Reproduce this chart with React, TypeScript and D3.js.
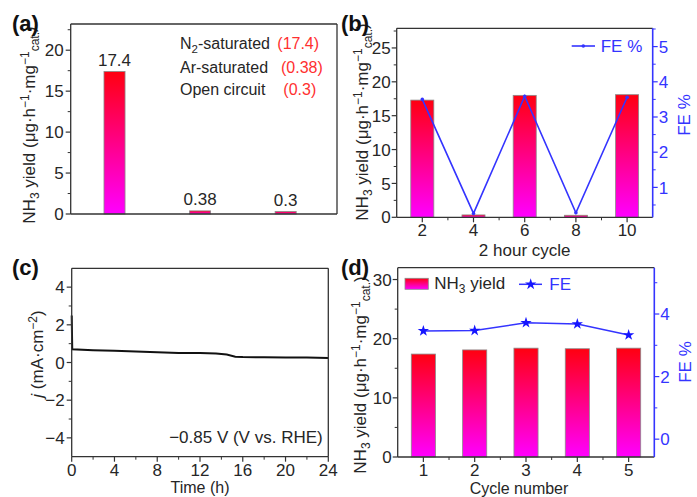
import React from "react";
import * as d3 from "d3";

// ---------- data ----------
const catA = ["N2-saturated", "Ar-saturated", "Open circuit"];
const yieldA = [17.4, 0.38, 0.3];
const labelA = ["17.4", "0.38", "0.3"];

const cycleB = [2, 4, 6, 8, 10];
const yieldB = [17.3, 0.35, 18.0, 0.3, 18.1];
const feB = [3.5, 0.26, 3.59, 0.28, 3.56];

const timeC = [0, 0.05, 2, 4, 6, 8, 10, 12, 13.5, 14.5, 15.3, 16, 18, 20, 22, 24];
const jC = [2.5, 0.7, 0.65, 0.62, 0.58, 0.54, 0.51, 0.5, 0.48, 0.42, 0.31, 0.29, 0.28, 0.27, 0.26, 0.24];

const cycleD = [1, 2, 3, 4, 5];
const yieldD = [17.4, 18.1, 18.4, 18.3, 18.4];
const feD = [3.46, 3.47, 3.72, 3.68, 3.33];

// ticks
const ticksAy = [0, 5, 10, 15, 20];
const minorAy = [2.5, 7.5, 12.5, 17.5, 22.5];
const ticksBy = [0, 5, 10, 15, 20, 25];
const minorBy = [2.5, 7.5, 12.5, 17.5, 22.5, 27.5];
const ticksBr = [1, 2, 3, 4, 5];
const minorBr = [0.5, 1.5, 2.5, 3.5, 4.5, 5.5];
const ticksBx = [2, 4, 6, 8, 10];
const minorBx = [3, 5, 7, 9];
const ticksCx = [0, 4, 8, 12, 16, 20, 24];
const minorCx = [2, 6, 10, 14, 18, 22];
const ticksCy = [-4, -2, 0, 2, 4];
const minorCy = [-3, -1, 1, 3];
const ticksDx = [1, 2, 3, 4, 5];
const minorDx = [1.5, 2.5, 3.5, 4.5];
const ticksDy = [0, 10, 20, 30];
const minorDy = [5, 15, 25];
const ticksDr = [0, 2, 4];
const minorDr = [1, 3, 5];

const FONT = "'Liberation Sans', Arial, Helvetica, sans-serif";
const FS = 17;
const SS = 12;
const TXT = "#262626";
const BLUE = "#3434ff";
const AX = "#333";
const fmt = (v: number) => (v < 0 ? "\u2212" + Math.abs(v) : String(v));

function LeftAxis({ scale, x, majors, minors, color = AX, gap = 7 }: any) {
  return (
    <g>
      {majors.map((t: number) => (
        <g key={"M" + t}>
          <line x1={x} x2={x - 5} y1={scale(t)} y2={scale(t)} stroke={color} strokeWidth={1.2} />
          <text x={x - gap} y={scale(t)} dy="0.36em" textAnchor="end" fontSize={FS} fill={TXT}>
            {fmt(t)}
          </text>
        </g>
      ))}
      {minors.map((t: number) => (
        <line key={"m" + t} x1={x} x2={x - 3} y1={scale(t)} y2={scale(t)} stroke={color} strokeWidth={1} />
      ))}
    </g>
  );
}

function RightAxis({ scale, x, majors, minors, color = BLUE, gap = 6 }: any) {
  return (
    <g>
      {majors.map((t: number) => (
        <g key={"M" + t}>
          <line x1={x} x2={x + 5} y1={scale(t)} y2={scale(t)} stroke={color} strokeWidth={1.2} />
          <text x={x + gap} y={scale(t)} dy="0.36em" textAnchor="start" fontSize={FS} fill={color}>
            {fmt(t)}
          </text>
        </g>
      ))}
      {minors.map((t: number) => (
        <line key={"m" + t} x1={x} x2={x + 3} y1={scale(t)} y2={scale(t)} stroke={color} strokeWidth={1} />
      ))}
    </g>
  );
}

function BottomAxis({ scale, y, majors, minors }: any) {
  return (
    <g>
      {majors.map((t: number) => (
        <g key={"M" + t}>
          <line x1={scale(t)} x2={scale(t)} y1={y} y2={y + 5} stroke={AX} strokeWidth={1.2} />
          <text x={scale(t)} y={y + 19} textAnchor="middle" fontSize={FS} fill={TXT}>
            {fmt(t)}
          </text>
        </g>
      ))}
      {minors.map((t: number) => (
        <line key={"m" + t} x1={scale(t)} x2={scale(t)} y1={y} y2={y + 3} stroke={AX} strokeWidth={1} />
      ))}
    </g>
  );
}

function Frame({ x0, x1, y0, y1, rightColor = AX }: any) {
  return (
    <g fill="none">
      <line x1={x0} x2={x1} y1={y0} y2={y0} stroke={AX} strokeWidth={1.3} />
      <line x1={x0} x2={x1} y1={y1} y2={y1} stroke={AX} strokeWidth={1.3} />
      <line x1={x0} x2={x0} y1={y0} y2={y1} stroke={AX} strokeWidth={1.3} />
      <line x1={x1} x2={x1} y1={y0} y2={y1} stroke={rightColor} strokeWidth={rightColor === AX ? 1.3 : 1.6} />
    </g>
  );
}

function YieldTitle({ x, y }: any) {
  return (
    <text transform={`translate(${x},${y}) rotate(-90)`} textAnchor="middle" fontSize={FS} fill={TXT}>
      NH<tspan dy={4} fontSize={SS}>3</tspan>
      <tspan dy={-4}> yield (μg·h</tspan>
      <tspan dy={-6} fontSize={SS}>−1</tspan>
      <tspan dy={6}>·mg</tspan>
      <tspan dy={-6} fontSize={SS}>−1</tspan>
      <tspan dy={10} fontSize={SS}>cat.</tspan>
      <tspan dy={-4}>)</tspan>
    </text>
  );
}

export default function App() {
  // ---------- panel (a) ----------
  const ax = d3.scaleLinear().domain([0.488, 3.6]).range([70.7, 337]);
  const ay = d3.scaleLinear().domain([0, 23.2]).range([214, 24]);
  const bwA = 0.246;

  // ---------- panel (b) ----------
  const bx = d3.scaleLinear().domain([1, 11]).range([396.7, 652.7]);
  const by = d3.scaleLinear().domain([0, 27.9]).range([217.3, 28.3]);
  const byR = d3.scaleLinear().domain([0.15, 5.52]).range([217.3, 28.3]);
  const bwB = 0.9;
  const lineB = d3
    .line<number>()
    .x((_, i) => bx(cycleB[i]))
    .y((d) => byR(d));

  // ---------- panel (c) ----------
  const cx = d3.scaleLinear().domain([0, 24]).range([71.7, 328.3]);
  const cy = d3.scaleLinear().domain([-5, 5]).range([456.7, 268.3]);
  const lineC = d3
    .line<number>()
    .x((_, i) => cx(timeC[i]))
    .y((d) => cy(d))
    .curve(d3.curveLinear);

  // ---------- panel (d) ----------
  const dx = d3.scaleLinear().domain([0.5, 5.5]).range([397.7, 654.3]);
  const dy = d3.scaleLinear().domain([0, 32]).range([457, 267.7]);
  const dyR = d3.scaleLinear().domain([-0.57, 5.48]).range([457, 267.7]);
  const bwD = 0.47;
  const lineD = d3
    .line<number>()
    .x((_, i) => dx(cycleD[i]))
    .y((d) => dyR(d));
  const star = d3.symbol().type(d3.symbolStar).size(40)() as string;

  const bar = (x: number, w: number, yTop: number, yBot: number, key: string) => (
    <rect
      key={key}
      x={x - w / 2}
      y={Math.min(yTop, yBot)}
      width={w}
      height={Math.abs(yBot - yTop)}
      fill="url(#barGrad)"
      stroke="#8a8a8a"
      strokeWidth={0.8}
    />
  );

  return (
    <svg
      width={697}
      height={497}
      style={{ position: "absolute", left: 0, top: 0, background: "#fff" }}
      fontFamily={FONT}
    >
      <defs>
        <linearGradient id="barGrad" x1="0" y1="0" x2="0" y2="1">
          <stop offset="0" stopColor="#ff0010" />
          <stop offset="1" stopColor="#ff00ff" />
        </linearGradient>
      </defs>
      <rect x={0} y={0} width={697} height={497} fill="#fff" />

      {/* ===== (a) ===== */}
      <g>
        {yieldA.map((v, i) => bar(ax(i + 1), ax(bwA) - ax(0), ay(v), ay(0), "a" + i))}
        {yieldA.map((v, i) => (
          <text key={"la" + i} x={ax(i + 1)} y={ay(v) - 6} textAnchor="middle" fontSize={FS} fill={TXT}>
            {labelA[i]}
          </text>
        ))}
        <Frame x0={70.7} x1={337} y0={24} y1={214} />
        <LeftAxis scale={ay} x={70.7} majors={ticksAy} minors={minorAy} />
        <YieldTitle x={35} y={125} />
        <text x={12} y={31} fontSize={22} fontWeight="bold" fill="#111">(a)</text>
        <g fontSize={16} fill={TXT}>
          <text x={180} y={48.5}>
            N<tspan dy={4} fontSize={11.5}>2</tspan>
            <tspan dy={-4}>-saturated</tspan>
            <tspan x={277.3} fill="#ff3030">({yieldA[0]})</tspan>
          </text>
          <text x={180} y={72.5}>
            {catA[1]} <tspan x={281} fill="#ff3030">({yieldA[1]})</tspan>
          </text>
          <text x={180} y={94.5}>
            {catA[2]} <tspan x={283.3} fill="#ff3030">({yieldA[2]})</tspan>
          </text>
        </g>
      </g>

      {/* ===== (b) ===== */}
      <g>
        {yieldB.map((v, i) => bar(bx(cycleB[i]), bx(bwB) - bx(0), by(v), by(0), "b" + i))}
        <path d={lineB(feB) as string} fill="none" stroke={BLUE} strokeWidth={1.6} />
        {feB.map((v, i) => (
          <circle key={"pb" + i} cx={bx(cycleB[i])} cy={byR(v)} r={1.8} fill={BLUE} />
        ))}
        <Frame x0={396.7} x1={652.7} y0={28.3} y1={217.3} rightColor={BLUE} />
        <LeftAxis scale={by} x={396.7} majors={ticksBy} minors={minorBy} gap={6} />
        <RightAxis scale={byR} x={652.7} majors={ticksBr} minors={minorBr} />
        <BottomAxis scale={bx} y={217.3} majors={ticksBx} minors={minorBx} />
        <YieldTitle x={368} y={122} />
        <text transform="translate(690,115) rotate(-90)" textAnchor="middle" fontSize={FS} fill={BLUE}>
          FE %
        </text>
        <text x={524.7} y={255.5} textAnchor="middle" fontSize={FS} fill={TXT}>
          2 hour cycle
        </text>
        <text x={341} y={31} fontSize={22} fontWeight="bold" fill="#111">(b)</text>
        <line x1={571.7} x2={595} y1={46} y2={46} stroke={BLUE} strokeWidth={1.6} />
        <circle cx={583.3} cy={46} r={1.8} fill={BLUE} />
        <text x={600.7} y={51.5} fontSize={FS} fill={BLUE}>FE %</text>
      </g>

      {/* ===== (c) ===== */}
      <g>
        <path d={lineC(jC) as string} fill="none" stroke="#111" strokeWidth={2} />
        <Frame x0={71.7} x1={328.3} y0={268.3} y1={456.7} />
        <LeftAxis scale={cy} x={71.7} majors={ticksCy} minors={minorCy} />
        <BottomAxis scale={cx} y={456.7} majors={ticksCx} minors={minorCx} />
        <text transform="translate(43,354) rotate(-90)" textAnchor="middle" fontSize={FS} fill={TXT}>
          <tspan fontStyle="italic">j</tspan> (mA·cm
          <tspan dy={-6} fontSize={SS}>−2</tspan>
          <tspan dy={6}>)</tspan>
        </text>
        <text x={200} y={493} textAnchor="middle" fontSize={16} fill={TXT}>
          Time (h)
        </text>
        <text x={322.7} y={443.3} textAnchor="end" fontSize={FS} fill={TXT}>
          −0.85 V (V vs. RHE)
        </text>
        <text x={12} y={275} fontSize={22} fontWeight="bold" fill="#111">(c)</text>
      </g>

      {/* ===== (d) ===== */}
      <g>
        {yieldD.map((v, i) => bar(dx(cycleD[i]), dx(bwD) - dx(0), dy(v), dy(0), "d" + i))}
        <path d={lineD(feD) as string} fill="none" stroke={BLUE} strokeWidth={1.5} />
        {feD.map((v, i) => (
          <path key={"sd" + i} d={star} transform={`translate(${dx(cycleD[i])},${dyR(v)})`} fill="#1515ff" />
        ))}
        <Frame x0={397.7} x1={654.3} y0={267.7} y1={457} rightColor={BLUE} />
        <LeftAxis scale={dy} x={397.7} majors={ticksDy} minors={minorDy} gap={6} />
        <RightAxis scale={dyR} x={654.3} majors={ticksDr} minors={minorDr} />
        <BottomAxis scale={dx} y={457} majors={ticksDx} minors={minorDx} />
        <YieldTitle x={366} y={375} />
        <text transform="translate(691,362) rotate(-90)" textAnchor="middle" fontSize={FS} fill={BLUE}>
          FE %
        </text>
        <text x={519} y={493.5} textAnchor="middle" fontSize={16} fill={TXT}>
          Cycle number
        </text>
        <text x={341} y={275} fontSize={22} fontWeight="bold" fill="#111">(d)</text>
        <rect x={405} y={278.3} width={23.3} height={11} fill="url(#barGrad)" stroke="#8a8a8a" strokeWidth={0.8} />
        <text x={434.3} y={289} fontSize={FS} fill={TXT}>
          NH<tspan dy={4} fontSize={SS}>3</tspan>
          <tspan dy={-4}> yield</tspan>
        </text>
        <line x1={519} x2={542} y1={284.3} y2={284.3} stroke={BLUE} strokeWidth={1.5} />
        <path d={star} transform="translate(530.7,284.3)" fill="#1515ff" />
        <text x={549.3} y={290} fontSize={FS} fill={BLUE}>FE</text>
      </g>
    </svg>
  );
}
